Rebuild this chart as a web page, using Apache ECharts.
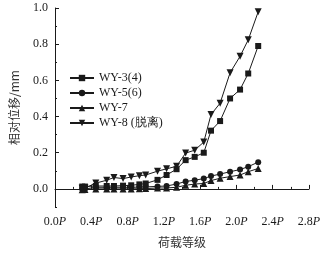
<!DOCTYPE html>
<html><head><meta charset="utf-8">
<script src="https://cdn.jsdelivr.net/npm/echarts@6/dist/echarts.min.js"></script>
<style>html,body{margin:0;padding:0;background:#fff}#c{width:325px;height:253px}</style>
</head><body><div id="c"></div>
<script>
const loadLevels = [0.30,0.33,0.45,0.57,0.65,0.75,0.84,0.93,1.00,1.13,1.23,1.34,1.44,1.54,1.64,1.72,1.82,1.93,2.04,2.13,2.24];
const seriesNames = ['WY-3(4)','WY-5(6)','WY-7','WY-8 (脱离)'];
const wy3 = [0.013,0.013,0.016,0.016,0.016,0.018,0.020,0.025,0.030,0.050,0.077,0.109,0.159,0.177,0.200,0.322,0.375,0.500,0.549,0.638,0.790];
const wy5 = [0.000,0.000,0.009,0.009,0.009,0.009,0.009,0.010,0.011,0.014,0.016,0.027,0.041,0.048,0.057,0.071,0.082,0.095,0.107,0.123,0.148];
const wy7 = [-0.004,-0.003,0.000,0.000,0.000,0.000,0.000,0.001,0.002,0.005,0.005,0.009,0.020,0.027,0.030,0.046,0.059,0.068,0.077,0.095,0.113];
const wy8 = [0.004,0.005,0.032,0.048,0.063,0.057,0.066,0.073,0.077,0.098,0.111,0.125,0.198,0.214,0.259,0.411,0.474,0.642,0.733,0.824,0.979];
const yMajorTicks = [0,0.2,0.4,0.6,0.8,1.0];
const yMinorTicks = [-0.1,0.1,0.3,0.5,0.7,0.9];

const serif = '"Liberation Serif","Times New Roman",serif';
const ink = '#1a1a1a';
const values = [wy3, wy5, wy7, wy8];
const symbols = ['rect','circle','triangle','triangle'];
const rotations = [0,0,0,180];
const sizes = [6,6,7,7];

const chart = echarts.init(document.getElementById('c'));
chart.setOption({
  animation:false,
  grid:{left:52,right:16,top:8,bottom:41,containLabel:false},
  legend:{
    orient:'vertical', left:64, top:67, itemWidth:24, itemHeight:8, itemGap:3, padding:5,
    textStyle:{fontFamily:serif,fontSize:12,color:ink,lineHeight:12},
    data:seriesNames
  },
  xAxis:{
    type:'value', min:0, max:2.8, interval:0.4,
    name:'荷载等级', nameLocation:'middle', nameGap:29,
    nameTextStyle:{fontFamily:'"Noto Sans CJK SC",sans-serif',fontSize:12,color:'#333'},
    axisLine:{lineStyle:{color:ink,width:1}},
    axisTick:{inside:true,length:4,lineStyle:{color:ink}},
    minorTick:{show:true,splitNumber:2,length:2,lineStyle:{color:ink}},
    splitLine:{show:false},
    axisLabel:{margin:9,color:ink,
      formatter:v=>'{a|'+v.toFixed(1)+'}{b|P}',
      rich:{a:{fontFamily:serif,fontSize:12,color:ink},b:{fontFamily:serif,fontSize:12,fontStyle:'italic',color:ink}}}
  },
  yAxis:[{
    type:'value', min:-0.1, max:1.0,
    name:'相对位移/mm', nameLocation:'middle', nameGap:35, nameRotate:90,
    nameTextStyle:{fontFamily:'"Noto Sans CJK SC",sans-serif',fontSize:12,color:'#333'},
    axisLine:{show:true,lineStyle:{color:ink,width:1}},
    axisTick:{inside:true,length:4,customValues:yMajorTicks,lineStyle:{color:ink}},
    axisLabel:{customValues:yMajorTicks,margin:7,fontFamily:serif,fontSize:12,color:ink,formatter:v=>v.toFixed(1)},
    splitLine:{show:false}
  },{
    type:'value', min:-0.1, max:1.0, position:'left',
    axisLine:{show:false},
    axisTick:{show:true,inside:true,length:2,customValues:yMinorTicks,lineStyle:{color:ink}},
    axisLabel:{show:false},
    splitLine:{show:false}
  }],
  series:seriesNames.map((n,i)=>({
    name:n, type:'line', yAxisIndex:0,
    data:loadLevels.map((x,j)=>[x,values[i][j]]),
    symbol:symbols[i], symbolRotate:rotations[i], symbolSize:sizes[i], showAllSymbol:true,
    lineStyle:{color:ink,width:1}, itemStyle:{color:ink}
  }))
});
</script></body></html>
